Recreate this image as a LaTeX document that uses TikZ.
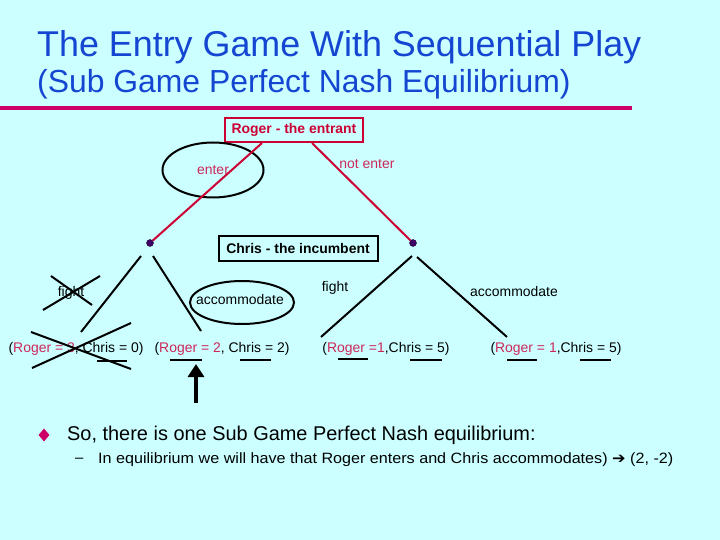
\documentclass[tikz,border=0pt]{standalone}
\usepackage{fontspec}
\setmainfont{Liberation Sans}
\newfontfamily\arrowfont{DejaVu Sans}
\usepackage{tikz}
\usetikzlibrary{shapes.geometric,arrows.meta,positioning,calc}
\definecolor{SGbg}{RGB}{204,255,255}
\definecolor{SGblue}{RGB}{20,70,210}
\definecolor{SGmagenta}{RGB}{204,0,102}
\definecolor{SGcrimson}{RGB}{204,0,51}
\definecolor{SGrose}{RGB}{204,40,90}
\definecolor{SGdot}{RGB}{60,0,100}
\tikzstyle{pbox}    = [rectangle, draw, line width=2bp, minimum height=24bp,
                       inner sep=3bp, font=\fontsize{14}{16}\selectfont\bfseries]
\tikzstyle{Broger}  = [pbox, draw=SGcrimson, text=SGcrimson, minimum width=138bp]
\tikzstyle{Bchris}  = [pbox, minimum width=159bp, minimum height=25bp]
\tikzstyle{lbl}     = [inner sep=0pt, font=\fontsize{14}{16}\selectfont]
\tikzstyle{ring}    = [ellipse, draw, line width=2bp, inner sep=0pt,
                       font=\fontsize{14}{16}\selectfont]
\tikzstyle{decnode} = [circle, fill=SGdot, draw=SGdot!60!black, inner sep=0pt,
                       minimum size=7bp]
\tikzstyle{redline} = [SGcrimson, line width=2bp]
\tikzstyle{tline}   = [black, line width=2bp]
\tikzstyle{bigarrow}= [black, line width=4bp, -{Triangle[width=16bp,length=13bp]}]
\newcommand{\rg}[1]{\textcolor{SGrose}{#1}}

\begin{document}
\begin{tikzpicture}[x=1bp, y=-1bp]
  \fill[SGbg] (0,0) rectangle (720,540);
  \useasboundingbox (0,0) rectangle (720,540);

  \node[anchor=base west, inner sep=0pt, text=SGblue,
        font=\fontsize{36}{40}\selectfont] (title) at (37,57)
        {The Entry Game With Sequential Play};
  \node[anchor=base west, inner sep=0pt, text=SGblue,
        font=\fontsize{32}{36}\selectfont] (subtitle) at (37,93)
        {(Sub Game Perfect Nash Equilibrium)};
  \fill[SGmagenta] (0,106) rectangle (632,110.5);

  \node[Broger] (roger) at (294,130) {Roger - the entrant};
  \node[ring, text=SGrose, minimum width=101bp, minimum height=55bp] (enter) at (213,170) {enter};
  \node[lbl, text=SGrose] (noenter) at (367,164) {not enter};
  \node[decnode] (dotL) at (150,243) {};
  \node[decnode] (dotR) at (413,243) {};
  \node[Bchris] (chris) at (298,248.5) {Chris - the incumbent};

  \draw[redline] ($(roger.south)+(-32,0)$) -- (dotL);
  \draw[redline] ($(roger.south)+(18,0)$) -- (dotR);

  \node[lbl] (fightL) at (71,293) {fight};
  \node[ring, minimum width=104bp, minimum height=43bp] (accL) at (242,302.5) {};
  \node[lbl] (accLtxt) at (240,300) {accommodate};
  \node[lbl] (fightR) at (335,288) {fight};
  \node[lbl] (accR) at (514,292) {accommodate};

  \node[lbl] (payA) at (76,349) {(\rg{Roger = 3}, Chris = 0)};
  \node[lbl] (payB) at (222,349) {(\rg{Roger = 2}, Chris = 2)};
  \node[lbl] (payC) at (386,349) {(\rg{Roger =1},Chris = 5)};
  \node[lbl] (payD) at (556,349) {(\rg{Roger = 1},Chris = 5)};

  \coordinate (leafA) at (81,332);
  \coordinate (leafB) at (201,331);
  \coordinate (leafC) at (321,337);
  \coordinate (leafD) at (507,337);
  \draw[tline] ($(dotL)+(-9,13)$) -- (leafA);
  \draw[tline] ($(dotL)+(3,13)$)  -- (leafB);
  \draw[tline] ($(dotR)+(-1,13)$) -- (leafC);
  \draw[tline] ($(dotR)+(4,14)$)  -- (leafD);

  \draw[tline] ($(fightL)+(-20,-17)$) -- ($(fightL)+(21,12)$);
  \draw[tline] ($(fightL)+(-28,17)$)  -- ($(fightL)+(29,-17)$);
  \draw[tline] ($(payA)+(-45,-17)$) -- ($(payA)+(55,20)$);
  \draw[tline] ($(payA)+(-44,19)$)  -- ($(payA)+(55,-26)$);

  \foreach \xa/\xb/\yy in {97/127/361, 170/202/360, 240/271/360, 338/368/359,
                           410/442/360, 507/537/360, 580/611/360}
    \draw[tline] (\xa,\yy) -- (\xb,\yy);

  \coordinate (foot) at (196,403);
  \coordinate (tip) at (196,364);
  \draw[bigarrow] (foot) -- (tip);

  \node[diamond, fill=SGmagenta, inner sep=0pt, minimum width=11bp,
        minimum height=13bp] (bullet) at (44,435) {};
  \node[anchor=west, inner sep=0pt, font=\fontsize{20}{24}\selectfont]
        (concl) at (67,435) {So, there is one Sub Game Perfect Nash equilibrium:};
  \node[anchor=west, inner sep=0pt, font=\fontsize{15}{18}\selectfont]
        (dash) at (75,460) {--};
  \node[anchor=west, inner sep=0pt, xscale=1.08, font=\fontsize{15}{18}\selectfont]
        (detail) at (98,460) {In equilibrium we will have that Roger enters and
        Chris accommodates) {\arrowfont ➔} (2, -2)};
\end{tikzpicture}
\end{document}
